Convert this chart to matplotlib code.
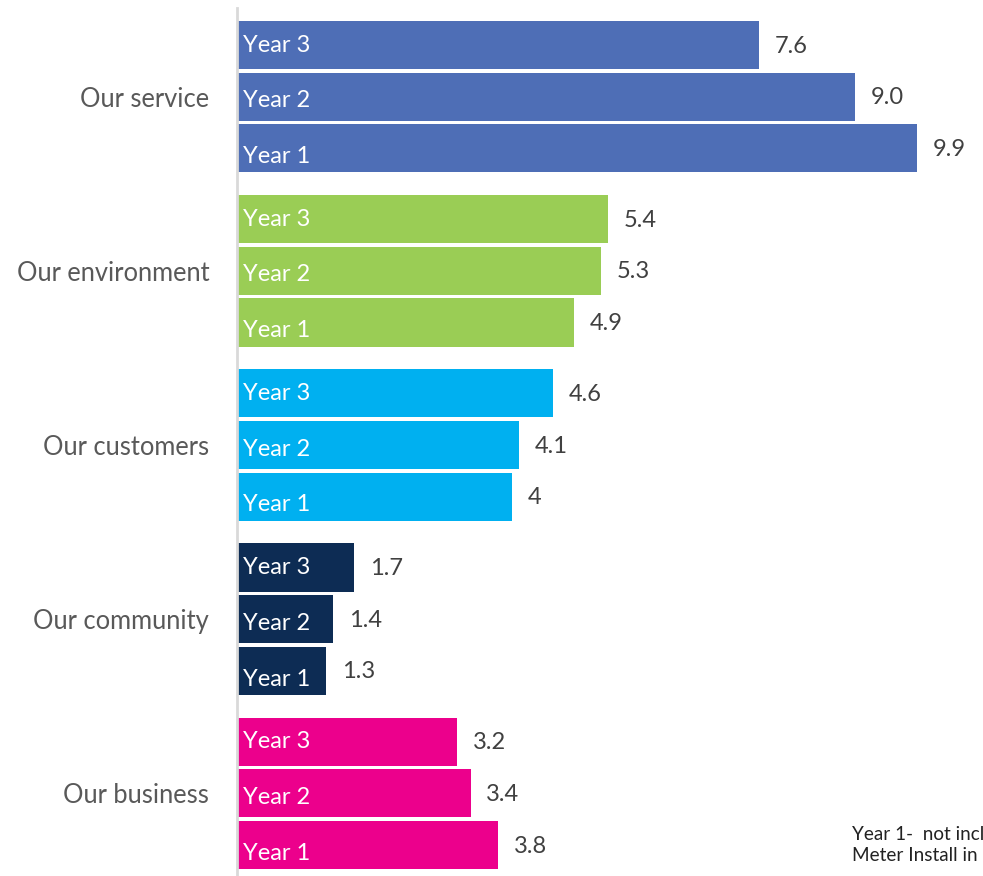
import matplotlib
matplotlib.use("Agg")
from matplotlib import pyplot as plt
import numpy as np

plt.rcParams['font.family'] = ['Lato', 'DejaVu Sans']

categories = ["Our service", "Our environment", "Our customers", "Our community", "Our business"]
years = ["Year 3", "Year 2", "Year 1"]
# values per category, in order Year 3, Year 2, Year 1
values = {
    "Our service": [7.6, 9.0, 9.9],
    "Our environment": [5.4, 5.3, 4.9],
    "Our customers": [4.6, 4.1, 4],
    "Our community": [1.7, 1.4, 1.3],
    "Our business": [3.2, 3.4, 3.8],
}
value_labels = {
    "Our service": ["7.6", "9.0", "9.9"],
    "Our environment": ["5.4", "5.3", "4.9"],
    "Our customers": ["4.6", "4.1", "4"],
    "Our community": ["1.7", "1.4", "1.3"],
    "Our business": ["3.2", "3.4", "3.8"],
}
colors = ["#4E6EB6", "#9ACD55", "#00B0F0", "#0D2C54", "#EC008C"]
note = "Year 1-  not incl\nMeter Install in"

W, H = 983, 876
fig = plt.figure(figsize=(W / 100, H / 100), dpi=100)
left = 237 / W
ax = fig.add_axes([left, 0, 1 - left, 1 - 8 / H])

group_step = 3.37
bar_h = 0.93
for g, cat in enumerate(categories):
    pos = g * group_step + np.arange(3)
    ax.barh(pos, values[cat], height=bar_h, color=colors[g])
    for k, (p, v, lab, yr) in enumerate(zip(pos, values[cat], value_labels[cat], years)):
        # in-bar labels drift slightly downward in the original
        ax.text(0.09, p + 0.08 * k, yr, color="white", fontsize=17, va="center", ha="left")
        ax.text(v + 0.23, p + 0.02, lab, color="#404040", fontsize=17, va="center", ha="left")

centers = [g * group_step + 1 for g in range(len(categories))]
ax.set_yticks(centers)
ax.set_yticklabels(categories, fontsize=18.4, color="#595959")
ax.tick_params(axis="y", length=0, pad=20)
ax.set_xticks([])

ax.set_xlim(0, (W - 237) / 68.7)
ax.set_ylim(16.08, -0.716)
for s in ["top", "right", "bottom"]:
    ax.spines[s].set_visible(False)
ax.spines["left"].set_color("#D9D9D9")
ax.spines["left"].set_linewidth(2)

# the note runs off the right edge in the original as well
fig.text(852 / W, 1 - 845 / H, note, fontsize=13.6, color="#222222",
         ha="left", va="center", linespacing=1.25)

fig.savefig("out.png", dpi=100)
